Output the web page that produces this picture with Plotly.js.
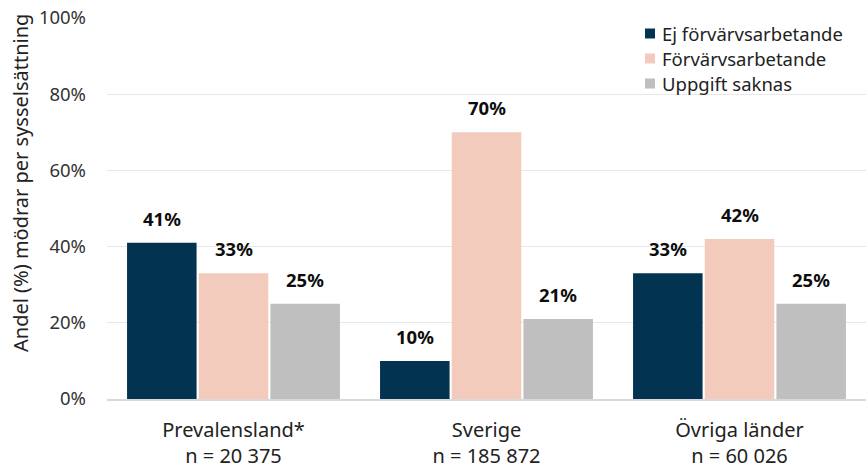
<!DOCTYPE html>
<html>
<head>
<meta charset="utf-8">
<script src="https://cdn.plot.ly/plotly-3.0.1.min.js"></script>
<style>
  html, body { margin: 0; padding: 0; background: #fff; }
  #chart { width: 866px; height: 469px; }
</style>
</head>
<body>
<div id="chart"></div>
<script>
// Share of mothers by employment status, grouped by country of birth
const categories = [
  "Prevalensland*<br>n = 20 375",
  "Sverige<br>n = 185 872",
  "Övriga länder<br>n = 60 026"
];
const seriesNames = ["Ej förvärvsarbetande", "Förvärvsarbetande", "Uppgift saknas"];
const notWorking = [0.41, 0.10, 0.33];
const working = [0.33, 0.70, 0.42];
const unknown = [0.25, 0.21, 0.25];
const yTickVals = [0, 0.2, 0.4, 0.6, 0.8, 1.0];
const yTickText = ["0%", "20%", "40%", "60%", "80%", "100%"];
const yTitle = "Andel (%) mödrar per sysselsättning";

const colors = ["#023452", "#f2cbbd", "#bfbfbf"];
const seriesValues = [notWorking, working, unknown];
const bargap = 0.15;
const slot = (1 - bargap) / seriesValues.length;

const font = "'Noto Sans', 'Open Sans', sans-serif";

// Plot area geometry (pixels), used to place the compact legend and axis title
const W = 866, H = 469;
const M = { l: 107, r: 0, t: 18, b: 70 };
const plotW = W - M.l - M.r, plotH = H - M.t - M.b;
const px = x => (x - M.l) / plotW;
const py = y => (H - M.b - y) / plotH;

const traces = seriesValues.map((vals, i) => ({
  type: "bar",
  name: seriesNames[i],
  x: categories,
  y: vals,
  marker: { color: colors[i] },
  hoverinfo: "skip",
  showlegend: false
}));

// Bold value labels above each bar
const annotations = [];
seriesValues.forEach((vals, i) => {
  vals.forEach((v, c) => {
    annotations.push({
      x: c + (i - 1) * slot,
      y: v,
      xref: "x",
      yref: "y",
      text: "<b>" + Math.round(v * 100) + "%</b>",
      showarrow: false,
      yanchor: "bottom",
      yshift: 10,
      font: { family: font, size: 18.5, color: "#0d0d0d" }
    });
  });
});

// Y-axis title
annotations.push({
  x: px(20), y: py(183), xref: "paper", yref: "paper",
  text: yTitle, textangle: -90, showarrow: false,
  xanchor: "center", yanchor: "middle",
  font: { family: font, size: 20, color: "#222" }
});

// Compact legend: white backing box, small squares with labels, tight rows
const shapes = [{
  type: "rect", xref: "paper", yref: "paper",
  x0: px(620), x1: px(866), y0: py(100), y1: py(19.5),
  fillcolor: "#fff", line: { width: 0 }, layer: "below"
}];
seriesNames.forEach((name, i) => {
  const cy = 33.5 + i * 25;
  shapes.push({
    type: "rect", xref: "paper", yref: "paper",
    x0: px(645), x1: px(655), y0: py(cy + 5), y1: py(cy - 5),
    fillcolor: colors[i], line: { width: 0 }, layer: "above"
  });
  annotations.push({
    x: px(661), y: py(cy), xref: "paper", yref: "paper",
    text: name, showarrow: false, xanchor: "left", yanchor: "middle",
    borderpad: 0,
    font: { family: font, size: 18.5, color: "#222" }
  });
});

const layout = {
  width: W,
  height: H,
  margin: M,
  paper_bgcolor: "#fff",
  plot_bgcolor: "#fff",
  barmode: "group",
  bargap: bargap,
  bargroupgap: 0.03,
  font: { family: font, size: 20, color: "#222" },
  xaxis: {
    type: "category",
    tickfont: { family: font, size: 20, color: "#222" },
    showline: true,
    linecolor: "#d9d9d9",
    linewidth: 1.5,
    ticks: "",
    ticklabelstandoff: 12,
    fixedrange: true
  },
  yaxis: {
    range: [0, 1],
    tickvals: yTickVals,
    ticktext: yTickText,
    tickfont: { family: font, size: 18.5, color: "#333" },
    gridcolor: "#e8e8e8",
    gridwidth: 1,
    zeroline: false,
    ticks: "",
    ticklen: 0,
    ticklabelstandoff: 20,
    layer: "below traces",
    fixedrange: true
  },
  shapes: shapes,
  annotations: annotations,
  showlegend: false
};

Plotly.newPlot("chart", traces, layout, { displayModeBar: false, staticPlot: true });
</script>
</body>
</html>
